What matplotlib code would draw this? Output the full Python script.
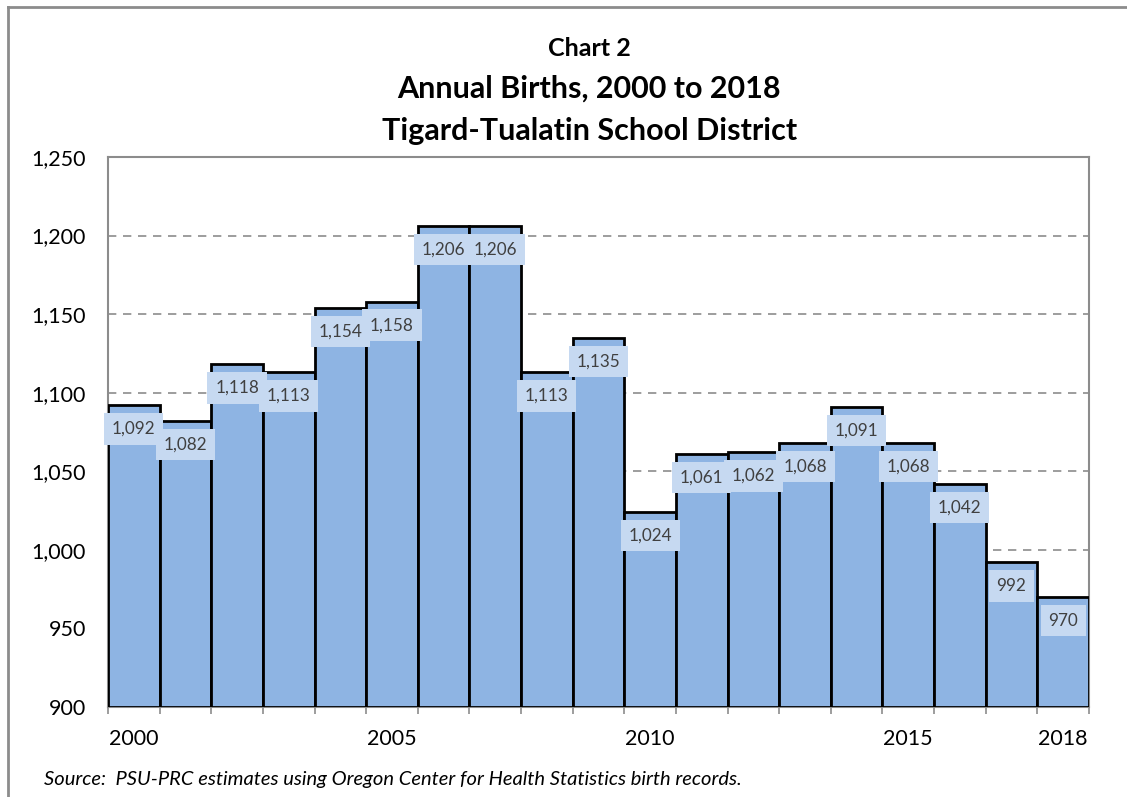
import matplotlib.pyplot as plt
from matplotlib.lines import Line2D
from matplotlib.ticker import FuncFormatter

plt.rcParams['font.family'] = ['Lato', 'DejaVu Sans']

years = list(range(2000, 2019))
births = [1092, 1082, 1118, 1113, 1154, 1158, 1206, 1206, 1113, 1135,
          1024, 1061, 1062, 1068, 1091, 1068, 1042, 992, 970]
shown_years = [2000, 2005, 2010, 2015, 2018]

fig = plt.figure(figsize=(11.27, 7.97), dpi=100)
ax = fig.add_axes([108 / 1127, 1 - 707 / 797, 981 / 1127, 550 / 797])

x = list(range(len(years)))
ax.bar(x, [b - 900 for b in births], bottom=900, width=1.0, color='#8eb4e3',
       edgecolor='black', linewidth=2.0, zorder=3)

ax.set_xlim(-0.5, len(years) - 0.5)
ax.set_ylim(900, 1250)
ax.set_yticks(range(900, 1251, 50))
ax.yaxis.set_major_formatter(FuncFormatter(lambda v, p: f'{int(v):,}'))
for v in range(950, 1250, 50):
    ax.axhline(v, color='#8c8c8c', linestyle=(0, (5, 4)), linewidth=1.2, zorder=1)

# labels at bar centres, ticks at bar boundaries
ax.set_xticks([years.index(y) for y in shown_years])
ax.set_xticklabels([str(y) for y in shown_years])
ax.set_xticks([i - 0.5 for i in range(len(years) + 1)], minor=True)
ax.tick_params(axis='x', which='major', length=0, pad=16, labelsize=15.5)
ax.tick_params(axis='x', which='minor', length=5, width=1.2, color='#8c8c8c')
ax.tick_params(axis='y', length=0, pad=16, labelsize=15.5)

for s in ax.spines.values():
    s.set_color('#8c8c8c')
    s.set_linewidth(1.5)

for i, b in enumerate(births):
    ax.annotate(f'{b:,}', (i, b), xytext=(0, -17), textcoords='offset points',
                ha='center', va='center', fontsize=12.3, color='#404040', zorder=5,
                bbox=dict(boxstyle='square,pad=0.45', fc='#c6d9f1', ec='none'))

fig.text(0.523, 1 - 48 / 797, 'Chart 2', ha='center', va='center', fontsize=18, fontweight='bold')
fig.text(0.523, 1 - 89 / 797, 'Annual Births, 2000 to 2018', ha='center', va='center',
         fontsize=22, fontweight='bold')
fig.text(0.523, 1 - 131 / 797, 'Tigard-Tualatin School District', ha='center', va='center',
         fontsize=22, fontweight='bold')
fig.text(44 / 1127, 1 - 780 / 797,
         'Source:  PSU-PRC estimates using Oregon Center for Health Statistics birth records.',
         ha='left', va='center', fontsize=14.5, style='italic')

# outer chart border (left and top only visible)
fig.add_artist(Line2D([8 / 1127, 8 / 1127], [0, 1 - 7 / 797], color='#8c8c8c', lw=2))
fig.add_artist(Line2D([8 / 1127, 1], [1 - 7 / 797, 1 - 7 / 797], color='#8c8c8c', lw=2))

fig.savefig('out.png', dpi=100)
